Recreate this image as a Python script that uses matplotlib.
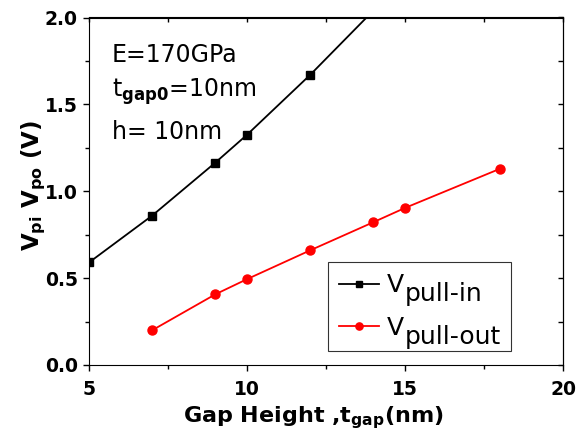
import matplotlib
matplotlib.use('Agg')
import matplotlib.pyplot as plt
from matplotlib.ticker import MultipleLocator, FormatStrFormatter

plt.rcParams['font.family'] = ['DejaVu Sans']
plt.rcParams['mathtext.default'] = 'regular'

# gap height (nm) vs pull-in / pull-out voltage (V)
gap_in = [5, 7, 9, 10, 12, 14, 15, 18]
v_pull_in = [0.59, 0.86, 1.165, 1.325, 1.67, 2.04, 2.23, 2.80]
gap_out = [7, 9, 10, 12, 14, 15, 18]
v_pull_out = [0.20, 0.407, 0.494, 0.66, 0.822, 0.904, 1.129]
series_subs = ['pull-in', 'pull-out']

fig = plt.figure(figsize=(5.79, 4.42), dpi=100)
ax = fig.add_axes([89/579, 1 - 365/442, (563-89)/579, (365-17.5)/442])

l1, = ax.plot(gap_in, v_pull_in, color='black', lw=1.3, marker='s', ms=5.5)
l2, = ax.plot(gap_out, v_pull_out, color='red', lw=1.3, marker='o', ms=6.5)

ax.set_xlim(5, 20)
ax.set_ylim(0, 2.0)
ax.xaxis.set_major_locator(MultipleLocator(5))
ax.xaxis.set_minor_locator(MultipleLocator(2.5))
ax.yaxis.set_major_locator(MultipleLocator(0.5))
ax.yaxis.set_minor_locator(MultipleLocator(0.25))
ax.yaxis.set_major_formatter(FormatStrFormatter('%.1f'))

ax.tick_params(which='both', direction='out', top=False, right=False, width=1)
ax.tick_params(which='major', length=4.5, labelsize=13.5)
ax.tick_params(which='minor', length=3)
ax.tick_params(axis='x', which='major', pad=6)
ax.tick_params(axis='y', which='major', pad=3.5)
for lab in ax.get_xticklabels() + ax.get_yticklabels():
    lab.set_fontweight('bold')

# inward ticks on the top and right spines
sec_x = ax.secondary_xaxis('top')
sec_x.xaxis.set_major_locator(MultipleLocator(2.5))
sec_x.tick_params(which='both', direction='in', labeltop=False, width=1, length=3.5)
sec_y = ax.secondary_yaxis('right')
sec_y.yaxis.set_major_locator(MultipleLocator(0.25))
sec_y.tick_params(which='both', direction='in', labelright=False, width=1, length=3.5)

ax.set_xlabel('Gap Height ,t$_{gap}$(nm)', fontsize=16, fontweight='bold')
ax.set_ylabel('V$_{pi}$ V$_{po}$ (V)', fontsize=16.5, fontweight='bold')
ax.xaxis.set_label_coords(0.473, -0.113)
ax.yaxis.set_label_coords(-0.086, 0.518)

ax.text(0.048, 0.893, 'E=170GPa', transform=ax.transAxes, fontsize=17, va='center')
ax.text(0.048, 0.788, 't$_{\\mathbf{gap0}}$=10nm', transform=ax.transAxes, fontsize=17, va='center')
ax.text(0.048, 0.67, 'h= 10nm', transform=ax.transAxes, fontsize=17, va='center')

# legend: "V" with a full-size, lowered suffix
leg = ax.legend([l1, l2], ['V' + s for s in series_subs], loc='upper left',
                bbox_to_anchor=(0.504, 0.296), borderaxespad=0, fontsize=18,
                frameon=True, fancybox=False, edgecolor='black', handlelength=1.6,
                handletextpad=0.3, borderpad=0.45, labelspacing=0.74, markerscale=0.8)
leg.get_frame().set_linewidth(0.8)
for t, sub in zip(leg.get_texts(), series_subs):
    t.set_alpha(0)
    v = ax.annotate('V', xy=(0, 0), xycoords=t, va='bottom', ha='left',
                    fontsize=18, zorder=6)
    ax.annotate(sub, xy=(1, 0), xycoords=v, xytext=(0.5, -6.5),
                textcoords='offset points', va='bottom', ha='left',
                fontsize=18, zorder=6)

fig.savefig('out.png', dpi=100)
